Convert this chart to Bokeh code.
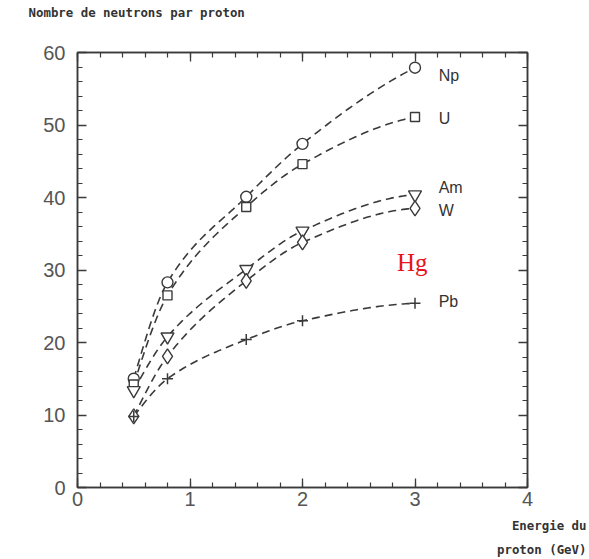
import numpy as np
from bokeh.plotting import figure
from bokeh.models import LinearAxis, Label, Range1d, FixedTicker, Title
from bokeh.embed import file_html
from bokeh.resources import INLINE

# ---- data ----
energy = [0.5, 0.8, 1.5, 2.0, 3.0]
np_vals = [15.0, 28.3, 40.1, 47.4, 57.9]
u_vals = [14.2, 26.5, 38.7, 44.6, 51.1]
am_vals = [13.4, 20.8, 30.1, 35.4, 40.4]
w_vals = [9.8, 18.1, 28.5, 33.8, 38.5]
pb_vals = [9.8, 15.0, 20.4, 23.0, 25.4]
series_names = ["Np", "U", "Am", "W", "Pb"]
label_y = [56.8, 50.9, 41.4, 38.2, 25.7]
x_ticks = [0, 1, 2, 3, 4]
y_ticks = [0, 10, 20, 30, 40, 50, 60]

INK = "#3a3a3a"


def pchip(x, y, xs):
    x = np.asarray(x, float)
    y = np.asarray(y, float)
    h = np.diff(x)
    d = np.diff(y) / h
    n = len(x)
    m = np.zeros(n)
    for k in range(1, n - 1):
        if d[k - 1] * d[k] > 0:
            w1 = 2 * h[k] + h[k - 1]
            w2 = h[k] + 2 * h[k - 1]
            m[k] = (w1 + w2) / (w1 / d[k - 1] + w2 / d[k])
    m0 = ((2 * h[0] + h[1]) * d[0] - h[0] * d[1]) / (h[0] + h[1])
    if np.sign(m0) != np.sign(d[0]):
        m0 = 0
    m[0] = m0
    mn = ((2 * h[-1] + h[-2]) * d[-1] - h[-1] * d[-2]) / (h[-1] + h[-2])
    if np.sign(mn) != np.sign(d[-1]):
        mn = 0
    m[-1] = mn
    out = np.empty_like(xs)
    for i, xv in enumerate(xs):
        k = min(np.searchsorted(x, xv, side="right") - 1, n - 2)
        k = max(k, 0)
        t = (xv - x[k]) / h[k]
        h00 = 2 * t**3 - 3 * t**2 + 1
        h10 = t**3 - 2 * t**2 + t
        h01 = -2 * t**3 + 3 * t**2
        h11 = t**3 - t**2
        out[i] = h00 * y[k] + h10 * h[k] * m[k] + h01 * y[k + 1] + h11 * h[k] * m[k + 1]
    return out


p = figure(width=589, height=559, output_backend="svg", toolbar_location=None,
           x_range=Range1d(0, 4), y_range=Range1d(0, 60),
           min_border_left=77, min_border_right=62, min_border_top=52, min_border_bottom=72,
           x_axis_location=None, y_axis_location=None)
p.grid.visible = False
p.outline_line_color = INK
p.outline_line_width = 1.5
p.background_fill_color = "white"
p.border_fill_color = "white"

minor_x = [i * 0.2 for i in range(21)]
minor_y = [i * 2 for i in range(31)]


def make_axis(kind, labels):
    ax = LinearAxis()
    if kind == "x":
        ax.ticker = FixedTicker(ticks=x_ticks, minor_ticks=minor_x)
    else:
        ax.ticker = FixedTicker(ticks=y_ticks, minor_ticks=minor_y)
    ax.axis_line_color = INK
    ax.axis_line_width = 1.5
    ax.major_tick_line_color = INK
    ax.minor_tick_line_color = INK
    ax.major_tick_line_width = 1.3
    ax.minor_tick_line_width = 1.2
    ax.major_tick_in = 9
    ax.major_tick_out = 0
    ax.minor_tick_in = 5
    ax.minor_tick_out = 0
    if labels:
        ax.major_label_text_font = "Liberation Sans"
        ax.major_label_text_font_size = "20px"
        ax.major_label_text_color = "#555555"
        ax.major_label_standoff = 12 if kind == "y" else 4
    else:
        ax.major_label_text_alpha = 0
        ax.major_label_text_font_size = "0px"
        ax.major_label_standoff = 0
        ax.axis_label_standoff = 0
    return ax


p.add_layout(make_axis("x", True), "below")
p.add_layout(make_axis("y", True), "left")
p.add_layout(make_axis("x", False), "above")
p.add_layout(make_axis("y", False), "right")

title_style = dict(text_font="DejaVu Sans Mono", text_font_size="12.4px", text_font_style="bold",
                   text_color="#333333")
# spacer between top axis and the title
p.add_layout(Title(text=" ", text_font_size="1px", standoff=30), "above")
p.add_layout(Title(text="Nombre de neutrons par proton", align="left", offset=-49, standoff=0,
                   **title_style), "above")
p.add_layout(Title(text="Energie du", align="right", offset=-59, standoff=14, **title_style), "below")
p.add_layout(Title(text="proton (GeV)", align="right", offset=-59, standoff=0, **title_style), "below")

xs = np.linspace(energy[0], energy[-1], 120)
all_vals = [np_vals, u_vals, am_vals, w_vals, pb_vals]
for vals in all_vals:
    p.line(xs, pchip(energy, vals, xs), line_color=INK, line_width=1.6, line_dash="8 5")

p.scatter(energy, np_vals, marker="circle", size=11, fill_color="white", line_color=INK, line_width=1.4)
p.scatter(energy, u_vals, marker="square", size=9, fill_color="white", line_color=INK, line_width=1.4)
p.scatter(energy, am_vals, marker="inverted_triangle", size=13, fill_color="white", line_color=INK, line_width=1.4)
p.scatter(energy, w_vals, marker="diamond", size=15, fill_color="white", line_color=INK, line_width=1.4)
p.scatter(energy, pb_vals, marker="cross", size=11, line_color=INK, line_width=1.5)

for name, ly in zip(series_names, label_y):
    p.add_layout(Label(x=3.21, y=ly, text=name, text_font="Liberation Sans", text_font_size="16px",
                       text_color="#333333", text_baseline="middle"))

p.add_layout(Label(x=2.84, y=31.0, text="Hg", text_font="Liberation Serif", text_font_size="25px",
                   text_color="#e8141b", text_baseline="middle"))

open("out.html", "w").write(file_html(p, INLINE))
